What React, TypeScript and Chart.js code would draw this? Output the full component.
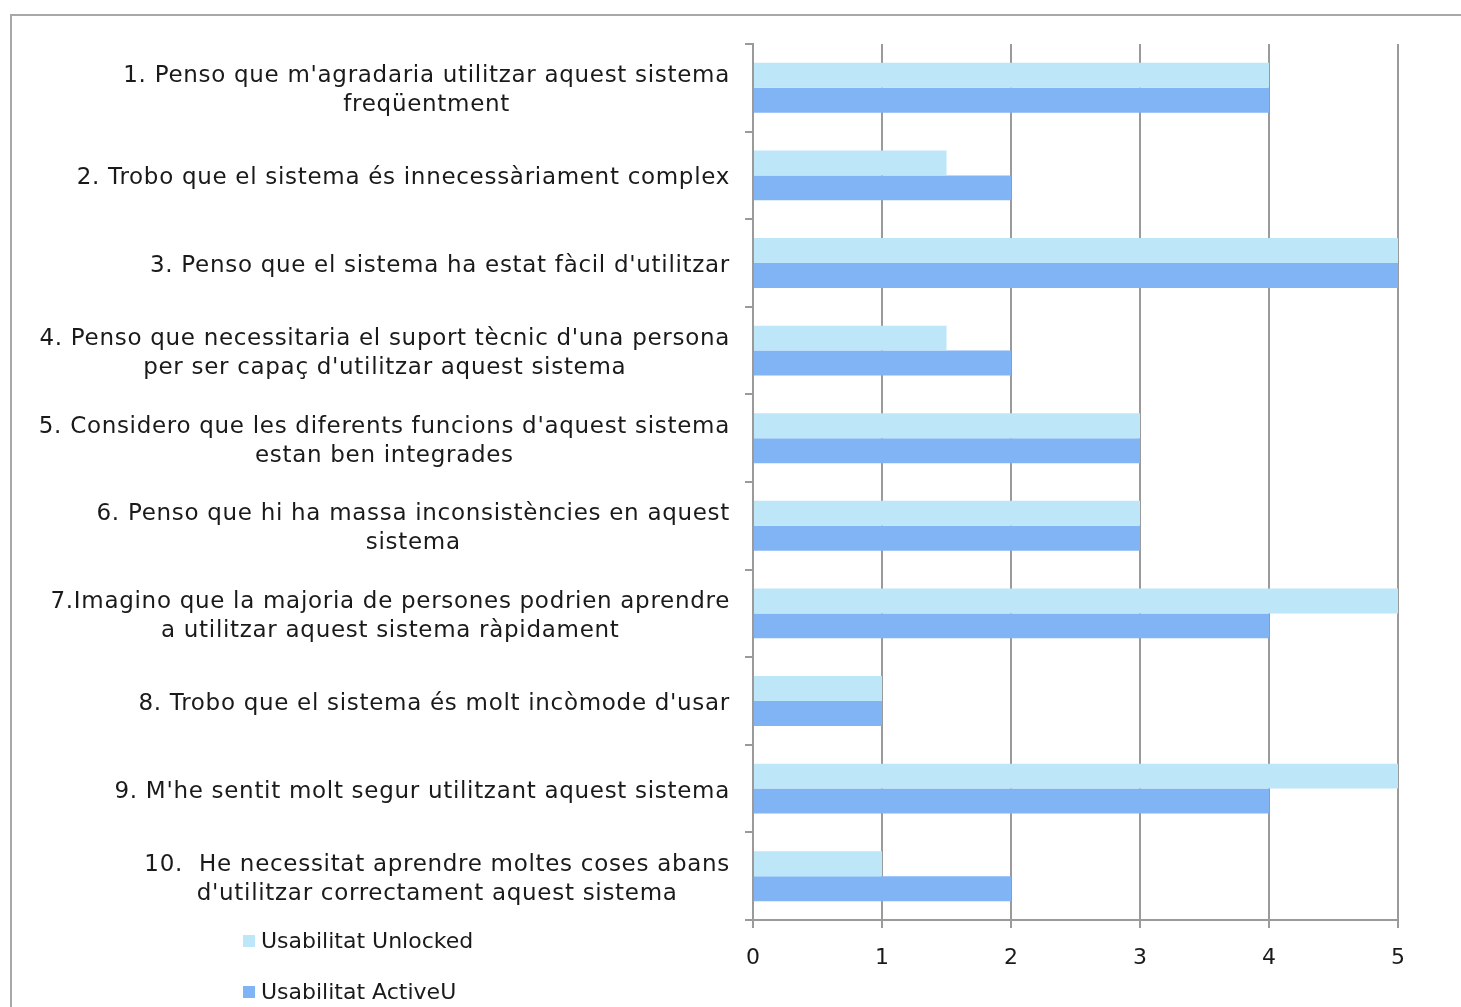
import React, { useEffect, useRef } from "react";
import { Chart, registerables } from "chart.js";

Chart.register(...registerables);

const categories: string[][] = [
  ["1. Penso que m'agradaria utilitzar aquest sistema", "freqüentment"],
  ["2. Trobo que el sistema és innecessàriament complex"],
  ["3. Penso que el sistema ha estat fàcil d'utilitzar"],
  ["4. Penso que necessitaria el suport tècnic d'una persona", "per ser capaç d'utilitzar aquest sistema"],
  ["5. Considero que les diferents funcions d'aquest sistema", "estan ben integrades"],
  ["6. Penso que hi ha massa inconsistències en aquest", "sistema"],
  ["7.Imagino que la majoria de persones podrien aprendre", "a utilitzar aquest sistema ràpidament"],
  ["8. Trobo que el sistema és molt incòmode d'usar"],
  ["9. M'he sentit molt segur utilitzant aquest sistema"],
  ["10.  He necessitat aprendre moltes coses abans", "d'utilitzar correctament aquest sistema"],
];

const seriesNames = ["Usabilitat Unlocked", "Usabilitat ActiveU"];
const unlocked = [4, 1.5, 5, 1.5, 3, 3, 5, 1, 5, 1];
const activeU = [4, 2, 5, 2, 3, 3, 4, 1, 4, 2];
const xTicks = [0, 1, 2, 3, 4, 5];

const FONT = "'DejaVu Sans', Verdana, sans-serif";
const LIGHT = "#BDE6F9";
const DARK = "#80B4F5";
const GRID = "#9a9a9a";

const decorPlugin = {
  id: "decor",
  beforeDraw(chart: any) {
    const ctx = chart.ctx;
    ctx.save();
    ctx.strokeStyle = "#a8a8a8";
    ctx.lineWidth = 2;
    ctx.beginPath();
    ctx.moveTo(11, 1010);
    ctx.lineTo(11, 15);
    ctx.lineTo(1465, 15);
    ctx.stroke();
    ctx.restore();
  },
  afterDraw(chart: any) {
    const ctx = chart.ctx;
    const yScale = chart.scales.y;
    ctx.save();
    ctx.font = `23px ${FONT}`;
    (ctx as any).letterSpacing = "0.7px";
    ctx.fillStyle = "#1a1a1a";
    ctx.textBaseline = "middle";
    const rightEdge = 730;
    const lineH = 29;
    categories.forEach((lines, i) => {
      const cy = yScale.getPixelForTick(i);
      const widths = lines.map((l) => ctx.measureText(l).width);
      const maxW = Math.max(...widths);
      const centerX = rightEdge - maxW / 2;
      const startY = cy - ((lines.length - 1) * lineH) / 2;
      ctx.textAlign = "center";
      lines.forEach((l, j) => {
        ctx.fillText(l, centerX, startY + j * lineH + 3);
      });
    });
    // legend
    (ctx as any).letterSpacing = "0px";
    ctx.font = `22px ${FONT}`;
    const colors = [LIGHT, DARK];
    const ys = [941, 992];
    seriesNames.forEach((name, i) => {
      ctx.fillStyle = colors[i];
      ctx.fillRect(243, ys[i] - 6, 12, 12);
      ctx.fillStyle = "#1a1a1a";
      ctx.textAlign = "left";
      ctx.fillText(name, 261, ys[i] + 1);
    });
    ctx.restore();
  },
};

export default function App() {
  const ref = useRef<HTMLCanvasElement | null>(null);
  useEffect(() => {
    document.body.style.margin = "0";
    const canvas = ref.current!;
    const chart = new Chart(canvas, {
      type: "bar",
      data: {
        labels: categories.map((c) => c.join(" ")),
        datasets: [
          {
            label: seriesNames[0],
            data: unlocked,
            backgroundColor: LIGHT,
            borderWidth: 0,
            categoryPercentage: 0.57,
            barPercentage: 1,
          },
          {
            label: seriesNames[1],
            data: activeU,
            backgroundColor: DARK,
            borderWidth: 0,
            categoryPercentage: 0.57,
            barPercentage: 1,
          },
        ],
      },
      options: {
        indexAxis: "y",
        responsive: false,
        animation: false,
        devicePixelRatio: 1,
        layout: { padding: { top: 44, right: 63, left: 0, bottom: 0 } },
        plugins: {
          legend: { display: false },
          tooltip: { enabled: false },
          title: { display: false },
        },
        scales: {
          x: {
            min: xTicks[0],
            max: xTicks[xTicks.length - 1],
            afterBuildTicks: (s: any) => {
              s.ticks = xTicks.map((v) => ({ value: v }));
            },
            afterFit: (s: any) => {
              s.height = 87;
            },
            ticks: {
              color: "#1a1a1a",
              font: { family: FONT, size: 22 },
              padding: 17,
            },
            grid: { color: GRID, lineWidth: 2, tickLength: 8 },
            border: { color: GRID, width: 2 },
          },
          y: {
            afterFit: (s: any) => {
              s.width = 753;
            },
            ticks: { color: "rgba(0,0,0,0)", font: { family: FONT, size: 20 } },
            grid: {
              offset: true,
              drawOnChartArea: false,
              color: GRID,
              lineWidth: 2,
              tickLength: 8,
            },
            border: { color: GRID, width: 2 },
          },
        },
      },
      plugins: [decorPlugin],
    });
    return () => chart.destroy();
  }, []);
  return (
    <div style={{ width: 1461, height: 1007, background: "#fff" }}>
      <canvas ref={ref} width={1461} height={1007} style={{ display: "block" }} />
    </div>
  );
}
